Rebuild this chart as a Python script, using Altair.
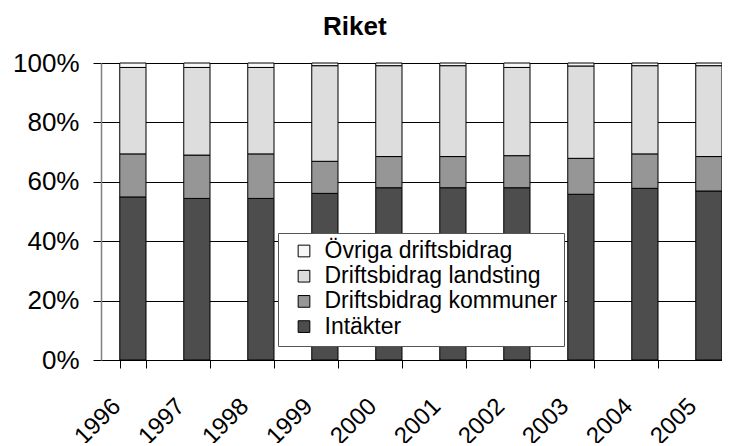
import altair as alt
import pandas as pd

years = ["1996", "1997", "1998", "1999", "2000", "2001", "2002", "2003", "2004", "2005"]
intakter = [54.9, 54.4, 54.4, 56.1, 58.0, 58.0, 58.0, 55.8, 57.8, 56.9]
kommuner = [14.5, 14.6, 15.0, 10.8, 10.5, 10.5, 10.8, 12.1, 11.6, 11.6]
landsting = [29.1, 29.5, 29.1, 32.2, 30.6, 30.6, 29.7, 31.1, 29.7, 30.6]
ovriga = [1.5, 1.5, 1.5, 0.9, 0.9, 0.9, 1.5, 1.0, 0.9, 0.9]

series_names = ["Intäkter", "Driftsbidrag kommuner", "Driftsbidrag landsting", "Övriga driftsbidrag"]
series_colors = ["#4d4d4d", "#969696", "#dddddd", "#f7f7f7"]
series_values = [intakter, kommuner, landsting, ovriga]

rows = []
for k, (name, vals) in enumerate(zip(series_names, series_values)):
    for y, v in zip(years, vals):
        rows.append({"year": y, "series": name, "value": v, "ord": k})
df = pd.DataFrame(rows)

legend_order = list(reversed(series_names))
legend_colors = list(reversed(series_colors))

FONT = "Liberation Sans"

chart = alt.Chart(df).mark_bar(stroke="black", strokeWidth=1).encode(
    x=alt.X(
        "year:N",
        title=None,
        scale=alt.Scale(paddingInner=0.59, paddingOuter=0.1466, align=1),
        axis=alt.Axis(
            labelAngle=315, labelAlign="right", labelBaseline="top",
            labelFontSize=24, labelFont=FONT, labelColor="black",
            labelPadding=26, labelOffset=-25,
            tickSize=8, tickBand="extent", tickColor="black",
            domainColor="black", grid=False,
        ),
    ),
    y=alt.Y(
        "value:Q",
        stack="normalize",
        title=None,
        scale=alt.Scale(domain=[0, 1]),
        axis=alt.Axis(
            format=".0%", values=[0, 0.2, 0.4, 0.6, 0.8, 1.0],
            labelFontSize=26, labelFont=FONT, labelColor="black",
            labelPadding=14, tickSize=8, tickColor="black",
            domainColor="#808080", domainWidth=1.5,
            grid=True, gridColor="black", gridWidth=1,
        ),
    ),
    color=alt.Color(
        "series:N",
        scale=alt.Scale(domain=legend_order, range=legend_colors),
        legend=alt.Legend(
            title=None, orient="none", legendX=177, legendY=170,
            fillColor="white", strokeColor="#555555", padding=6.5,
            symbolType="square", symbolSize=137, symbolStrokeColor="black",
            symbolStrokeWidth=1, symbolOpacity=1, symbolOffset=8,
            labelFontSize=23, labelFont=FONT, labelColor="black",
            labelOffset=9, rowPadding=1.2, labelLimit=500,
        ),
    ),
    order=alt.Order("ord:Q", sort="ascending"),
).properties(
    width=621,
    height=297,
    title=alt.TitleParams(
        "Riket", fontSize=26, font=FONT, fontWeight="bold", color="black",
        anchor="start", frame="group", dx=222, offset=10,
    ),
    autosize=alt.AutoSizeParams(type="none"),
    padding={"left": 93, "top": 55, "right": 0, "bottom": 83},
).configure_view(stroke=None).configure(background="white")

chart.save("out.html", embed_options={"renderer": "svg", "actions": False})
